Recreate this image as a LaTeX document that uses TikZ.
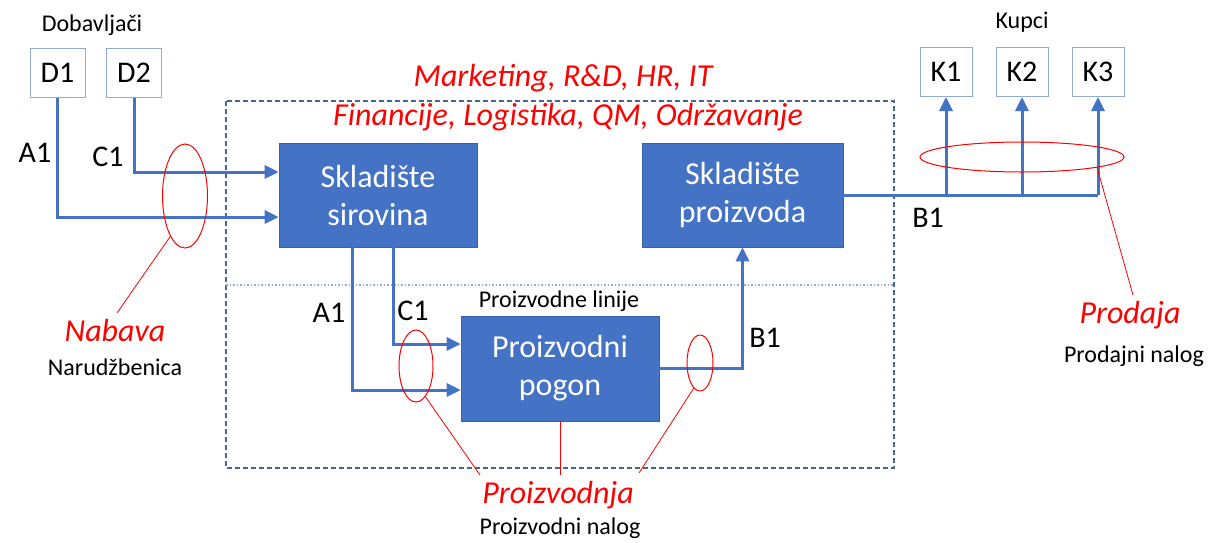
\documentclass[tikz,border=0pt]{standalone}
\usepackage{fontspec}
\setmainfont{Carlito}
\usetikzlibrary{arrows.meta,shapes.geometric,calc}
\definecolor{bl}{HTML}{4472C4}
\definecolor{lightbl}{HTML}{8FAADC}
\definecolor{dsh}{HTML}{4A6595}
\begin{document}
\begin{tikzpicture}[x=1pt,y=-1pt,
 blockbox/.style={fill=bl, draw=bl!85!black, line width=0.6pt, text=white, font=\fontsize{32}{38}\selectfont, align=center, inner sep=0},
 partybox/.style={draw=lightbl, line width=1pt, fill=white, minimum width=55pt, minimum height=49pt, inner sep=0, font=\fontsize{30}{30}\selectfont},
 flow/.style={draw=bl, line width=3pt},
 flowarr/.style={flow, -{Triangle[length=14pt,width=13pt]}},
 redring/.style={draw=red, line width=1pt, ellipse, inner sep=0},
 redline/.style={draw=red, line width=0.8pt},
 flowlabel/.style={font=\fontsize{30}{30}\selectfont, inner sep=0},
 smalltext/.style={font=\fontsize{24}{26}\selectfont, inner sep=0},
 redit/.style={text=red, font=\fontsize{32}{34}\selectfont\itshape, inner sep=0}]
\useasboundingbox (0,0) rectangle (1214,542);

% frames
\draw[dsh, line width=1.2pt, dash pattern=on 5pt off 3pt] (226,101) rectangle (894,468);
\draw[lightbl, line width=1.2pt, dash pattern=on 1.5pt off 2pt] (226,285) -- (894,285);

% parties
\node[smalltext] (dob) at (92,25) {Dobavljači};
\node[partybox] (D1) at (57.5,72.5) {D1};
\node[partybox] (D2) at (134,72.5) {D2};
\node[smalltext] (kup) at (1022,22) {Kupci};
\node[partybox, minimum width=52pt] (K1) at (946,72) {K1};
\node[partybox, minimum width=52pt] (K2) at (1022,72) {K2};
\node[partybox, minimum width=52pt] (K3) at (1098,72) {K3};

% blocks
\node[blockbox, minimum width=198pt, minimum height=104pt] (ss) at (378,195) {Skladište\\sirovina};
\node[blockbox, minimum width=201pt, minimum height=104pt] (sp) at (742.5,195) {Skladište\\proizvoda};
\node[blockbox, minimum width=198pt, minimum height=105pt] (pp) at (560,368.5) {Proizvodni\\pogon};

% flows
\draw[flowarr] (D1.south) |- ($(ss.west)+(0,22)$);
\draw[flowarr] (D2.south) |- ($(ss.west)+(0,-23)$);
\draw[flowarr] ($(ss.south)+(-26,0)$) |- ($(pp.west)+(0,21.5)$);
\draw[flowarr] ($(ss.south)+(15,0)$) |- ($(pp.west)+(0,-24.5)$);
\draw[flowarr] (pp.east) -| (sp.south);
\draw[flow] (sp.east) -- (K3.south |- sp.east);
\draw[flowarr] (K1.south |- sp.east) -- (K1.south);
\draw[flowarr] (K2.south |- sp.east) -- (K2.south);
\draw[flowarr] (K3.south |- sp.east) -- (K3.south);

% flow labels
\node[flowlabel] (a1a) at (35,153) {A1};
\node[flowlabel] (c1a) at (108,157) {C1};
\node[flowlabel] (a1b) at (329,313) {A1};
\node[flowlabel] (c1b) at (413,311) {C1};
\node[flowlabel] (b1b) at (765,338) {B1};
\node[flowlabel] (b1a) at (928,218) {B1};
\node[smalltext] (pl) at (559,301) {Proizvodne linije};

% red titles
\node[redit] (mk) at (563,78) {Marketing, R\&D, HR, IT};
\node[redit] (fin) at (568,117) {Financije, Logistika, QM, Održavanje};

% red rings
\node[redring, minimum width=45pt, minimum height=104pt] (e1) at (185,196) {};
\node[redring, minimum width=34pt, minimum height=72pt] (e2) at (416,366) {};
\node[redring, minimum width=26pt, minimum height=56pt] (e3) at (700,363) {};
\node[redring, minimum width=204pt, minimum height=30pt] (e4) at (1022,157) {};

% process labels
\node[redit] (nab) at (115,330) {Nabava};
\node[smalltext] (nar) at (115,367) {Narudžbenica};
\node[redit] (pro) at (558,495) {Proizvodnja};
\node[smalltext] (pn) at (560,528) {Proizvodni nalog};
\node[redit] (prd) at (1130,315) {Prodaja};
\node[smalltext] (prn) at (1134,356) {Prodajni nalog};

\coordinate (nabtop) at (117,313);
\coordinate (protopl) at (480,475);
\coordinate (protopm) at (560,475);
\coordinate (protopr) at (639,473);
\coordinate (prdtop) at (1133,295);

\draw[redline] (e1.250) -- (nabtop);
\draw[redline] (e2.-73) -- (protopl);
\draw[redline] (pp.south) -- (protopm);
\draw[redline] (e3.-104) -- (protopr);
\draw[redline] (e4.-8) -- (prdtop);
\end{tikzpicture}
\end{document}
